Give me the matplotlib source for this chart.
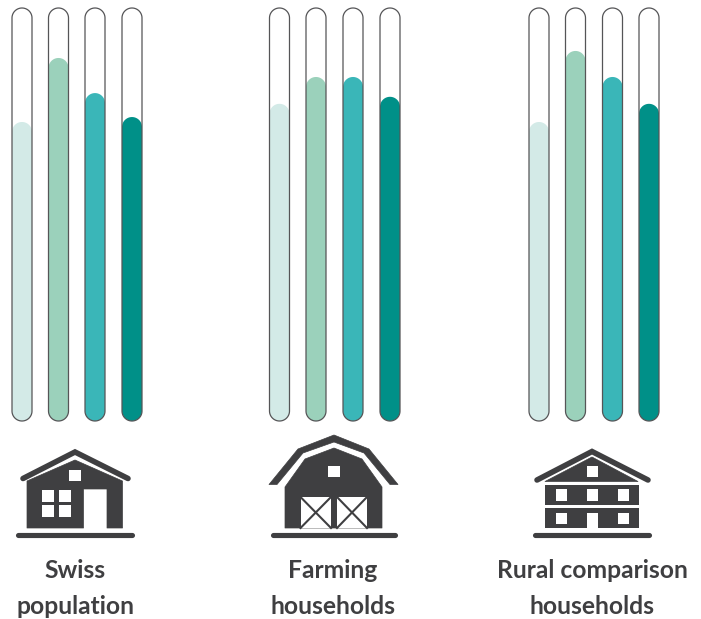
import numpy as np
import matplotlib
matplotlib.use('Agg')
import matplotlib.pyplot as plt
from matplotlib.patches import Polygon, Rectangle

swiss_values = [72.4, 87.9, 79.4, 73.6]
farming_values = [76.8, 83.3, 83.3, 78.5]
rural_values = [72.4, 89.6, 83.3, 76.8]
group_labels = ['Swiss\npopulation', 'Farming\nhouseholds', 'Rural comparison\nhouseholds']
bar_colors = ['#d3eae7', '#9bd1bb', '#3ab6b8', '#009088']

DARK = '#3f3f41'
BAR_BOTTOM = 421
BAR_TOP = 8
BAR_W = 20

fig = plt.figure(figsize=(7.01, 6.19), dpi=100)
ax = fig.add_axes([0, 0, 1, 1])
ax.set_xlim(0, 701)
ax.set_ylim(619, 0)
ax.axis('off')


def pill(x, top, width, **kw):
    r = width / 2
    t = np.linspace(0, np.pi, 40)
    # top arc then bottom arc, real semicircles
    xs = np.r_[x + r * np.cos(t), x - r * np.cos(t)]
    ys = np.r_[top + r - r * np.sin(t), BAR_BOTTOM - r + r * np.sin(t)]
    ax.add_patch(Polygon(np.c_[xs, ys], closed=True, **kw))


def tubes(centers, values):
    for cx, val, col in zip(centers, values, bar_colors):
        top = BAR_BOTTOM - (BAR_BOTTOM - BAR_TOP) * val / 100
        pill(cx, top, BAR_W, fc=col, ec='none', zorder=2)
        pill(cx, BAR_TOP, BAR_W, fc='none', ec='#555557', lw=0.9, zorder=3)


def box(x0, y0, x1, y1, color='white', z=5):
    ax.add_patch(Rectangle((x0, y0), x1 - x0, y1 - y0, fc=color, ec='none', zorder=z))


def poly(pts, color=DARK, z=4):
    ax.add_patch(Polygon(pts, closed=True, fc=color, ec=color, lw=0.5, joinstyle='round', zorder=z))


def roof(xs, ys):
    ax.plot(xs, ys, color=DARK, lw=4.0, solid_capstyle='round', solid_joinstyle='miter', zorder=4)


def ground(x0, x1):
    ax.plot([x0 + 2, x1 - 2], [534.5, 534.5], color=DARK, lw=3.7, solid_capstyle='round', zorder=4)


tubes([22, 58.5, 95, 132], swiss_values)
tubes([279.5, 316, 353, 390], farming_values)
tubes([539, 575.5, 612.5, 649], rural_values)

# house
roof([23, 75, 128], [478.5, 452, 478.5])
poly([(75, 460), (27, 481), (27, 528), (83.5, 528), (83.5, 489), (107, 489), (107, 528), (122.5, 528), (122.5, 481)])
box(69, 470, 81, 481)
for wx in [(42, 54), (59, 71)]:
    for wy in [(490, 502), (505, 517)]:
        box(wx[0], wy[0], wx[1], wy[1])
ground(16, 134)

# barn
poly([(269, 484.5), (298, 449), (334, 435), (369, 449), (398, 484.5), (390, 484.5),
      (364, 453), (334, 442), (303, 453), (277, 484.5)])
poly([(285, 487), (305, 459), (334, 448), (362, 459), (382, 487), (382, 528), (285, 528)])
box(328, 466, 340, 477)
for dx in [(300.5, 331), (337, 367)]:
    box(dx[0], 497, dx[1], 528)
    ax.plot([dx[0], dx[1]], [497, 528], color=DARK, lw=1.5, zorder=6)
    ax.plot([dx[0], dx[1]], [528, 497], color=DARK, lw=1.5, zorder=6)
ground(271, 397)

# chalet
roof([537, 592, 648], [480, 451.5, 480])
poly([(545, 481.5), (592, 457), (638, 481.5)])
box(587, 466, 598, 477)
box(545, 485, 639, 505, DARK, 4)
box(545, 508, 639, 528, DARK, 4)
for wx in [556, 587, 617.5]:
    box(wx, 489, wx + 11, 501)
box(556, 513, 567, 524)
box(617.5, 513, 628.5, 524)
box(587, 513, 598, 528)
ground(533, 651)

for cx, label in zip([75, 333, 592], group_labels):
    for yy, line in zip([570, 606], label.split('\n')):
        ax.text(cx, yy, line, ha='center', va='center', fontsize=17.7, fontweight='bold',
                family='Lato', color=DARK)

fig.savefig('out.png', dpi=100)
